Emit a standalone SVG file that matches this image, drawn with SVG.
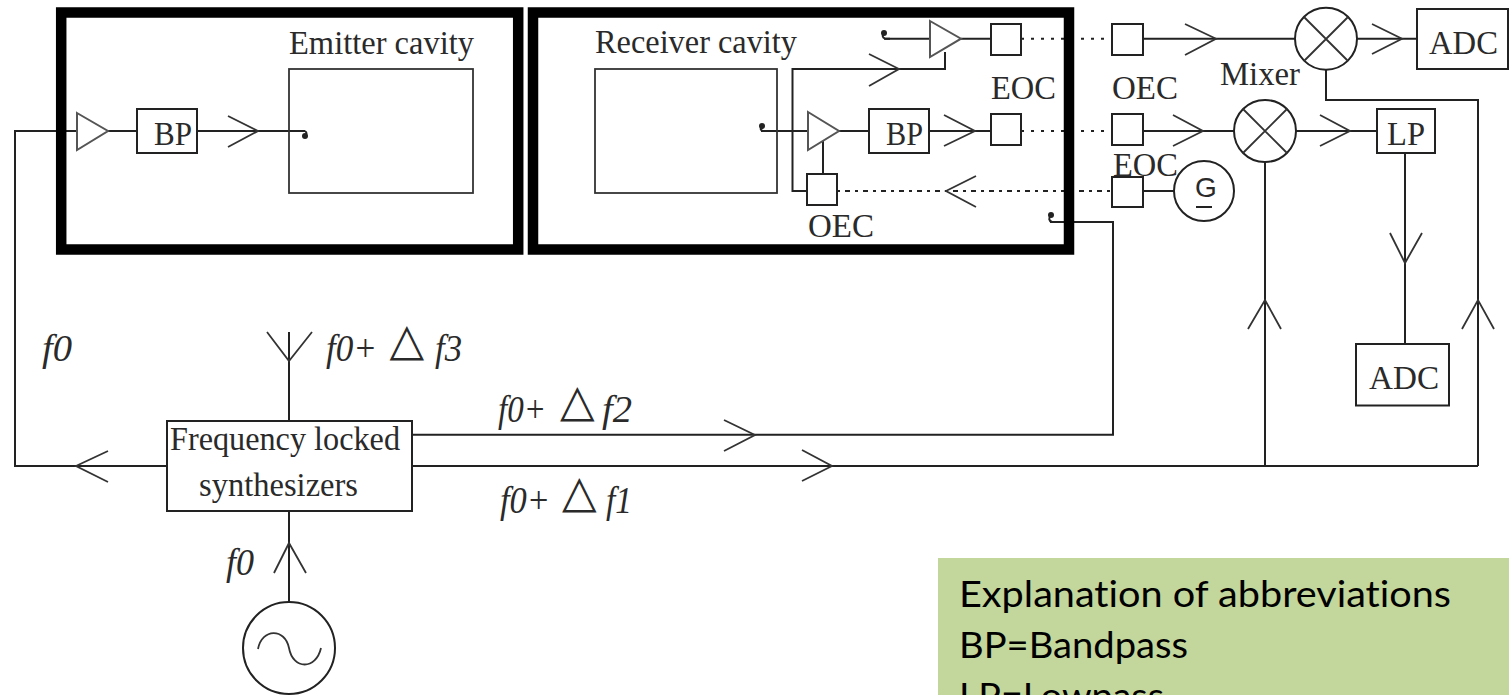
<svg xmlns="http://www.w3.org/2000/svg" width="1509" height="695" viewBox="0 0 1509 695">
<style>
.n{fill:none;stroke:#333;stroke-width:1.800}
.b{fill:#fff;stroke:#222;stroke-width:2}
.f{fill:none;stroke:#000;stroke-width:10.5}
.c{fill:none;stroke:#222;stroke-width:2}
.a{fill:none;stroke:#333;stroke-width:1.8}
.t{fill:#fff;stroke:#555;stroke-width:2}
.d{fill:none;stroke:#222;stroke-width:2;stroke-dasharray:3 7}
.e{fill:none;stroke:#222;stroke-width:2;stroke-dasharray:3 5 5 5}
text{font-family:"Liberation Serif","Times New Roman",serif;font-size:33px;fill:#2a2a2a}
.i{font-style:italic;font-size:37px}
.s{font-family:"DejaVu Sans",sans-serif;font-size:45px}
.g{font-family:"Liberation Sans",Arial,sans-serif;font-size:28px}
.l{font-family:Lato,"Open Sans",sans-serif;font-size:36px;fill:#000;font-variant-ligatures:none}
</style>
<rect width="1509" height="695" fill="#fff"/>
<g id="connectors">
<path class="c" d="M76 131H15V466H166"/>
<path class="c" d="M108 131H137M197 131H305"/>
<path class="c" d="M761 131H808M839 131H869M929 131H991"/>
<path class="c" d="M884 38.700H930M961 38.700H991"/>
<path class="c" d="M807 191H792.500V69H945V52"/>
<path class="c" d="M823 141V174"/>
<path class="d" d="M1021 38.700H1112M1021 131H1112"/>
<path class="e" d="M837 191H1112"/>
<path class="c" d="M1143 38.700H1295M1357 38.700H1417"/>
<path class="c" d="M1143 131H1234M1296 131H1377"/>
<path class="c" d="M1143 191H1174"/>
<path class="c" d="M1326 69V100H1478V466"/>
<path class="c" d="M1265 162V466"/>
<path class="c" d="M1405 153V344"/>
<path class="c" d="M412 466H1478"/>
<path class="c" d="M412 434.700H1113V222H1050"/>
<path class="c" d="M289 421V332M289 511V603"/>
<path class="a" d="M228 116L258 131L228 147M944 115L975 131L944 146M869 54L899 69L869 86M1185 24L1216 38.700L1185 55M1173 115L1203 131L1173 146M1320 115L1350 131L1320 146M1372 24L1402 38.700L1372 54M976 176L946 191L976 207M1390 233L1405 263L1422 233M1248 329L1265 300L1281 329M1462 329L1478 300L1494 329M724 420L755 435L724 451M802 450L832 466L802 481M108 451L76 466L108 482M267 332L289 361L312 332M274 573L289 543L306 573"/>
</g>
<g id="emitter-frame"><rect class="f" x="61.200" y="12.500" width="457" height="237"/></g>
<g id="receiver-frame"><rect class="f" x="533" y="12.500" width="536" height="237"/></g>
<g id="emitter-cavity"><rect class="n" x="289" y="69" width="184" height="124"/><text x="289" y="54" textLength="185" lengthAdjust="spacingAndGlyphs">Emitter cavity</text><path class="c" d="M305 131Q308 133 305 136"/><circle cx="305" cy="136" r="3" fill="#222"/></g>
<g id="amp-1"><path class="t" d="M77 113L108 131L77 150Z"/></g>
<g id="bp-1"><rect class="b" x="137" y="109" width="60" height="44"/><text x="154" y="145" textLength="38" lengthAdjust="spacingAndGlyphs">BP</text></g>
<g id="receiver-cavity"><rect class="n" x="595" y="69" width="182" height="124"/><text x="595" y="53" textLength="202" lengthAdjust="spacingAndGlyphs">Receiver cavity</text><path class="c" d="M767 131H763Q759 130 762 126"/><circle cx="762" cy="126" r="3" fill="#222"/></g>
<g id="amp-2"><path class="t" d="M808 112L839 131L808 150Z"/></g>
<g id="bp-2"><rect class="b" x="869" y="109" width="60" height="44"/><text x="886" y="145" textLength="37" lengthAdjust="spacingAndGlyphs">BP</text></g>
<g id="amp-3"><path class="t" d="M930 21L961 38.700L930 57Z"/><path class="c" d="M890 38.700H885Q881 37 884 33"/><circle cx="884" cy="33" r="3" fill="#222"/></g>
<g id="eoc-1"><rect class="b" x="991" y="24" width="30" height="31"/></g>
<g id="eoc-2"><rect class="b" x="991" y="114" width="30" height="31"/><text x="991" y="99" textLength="65" lengthAdjust="spacingAndGlyphs">EOC</text></g>
<g id="oec-1"><rect class="b" x="807" y="174" width="30" height="31"/><text x="808" y="237" textLength="66" lengthAdjust="spacingAndGlyphs">OEC</text></g>
<g id="out-hook"><path class="c" d="M1056 222H1052Q1047 220 1051 215"/><circle cx="1051" cy="215" r="3" fill="#222"/></g>
<g id="oec-2"><rect class="b" x="1112" y="24" width="31" height="31"/></g>
<g id="oec-3"><rect class="b" x="1112" y="114" width="31" height="31"/><text x="1112" y="99" textLength="66" lengthAdjust="spacingAndGlyphs">OEC</text></g>
<g id="eoc-3"><text x="1113" y="176" textLength="65" lengthAdjust="spacingAndGlyphs">EOC</text><rect class="b" x="1112" y="177" width="31" height="30" fill-opacity="0"/></g>
<g id="g-source"><circle class="b" cx="1204" cy="191" r="30"/><text class="g" x="1195" y="197">G</text><path class="c" d="M1196 207H1212"/></g>
<g id="mixer-1"><circle class="b" cx="1326" cy="38.700" r="31"/><path class="n" d="M1304 17L1348 61M1348 17L1304 61"/></g>
<g id="mixer-2"><circle class="b" cx="1265" cy="131" r="31"/><path class="n" d="M1243 109L1287 153M1287 109L1243 153"/><text x="1220" y="85" textLength="80" lengthAdjust="spacingAndGlyphs">Mixer</text></g>
<g id="adc-1"><rect class="b" x="1417" y="9" width="91" height="60"/><text x="1429" y="54" textLength="69" lengthAdjust="spacingAndGlyphs">ADC</text></g>
<g id="lp"><rect class="b" x="1377" y="109" width="58" height="44"/><text x="1387" y="145" textLength="38" lengthAdjust="spacingAndGlyphs">LP</text></g>
<g id="adc-2"><rect class="b" x="1356" y="344" width="93" height="61.500"/><text x="1369" y="389" textLength="70" lengthAdjust="spacingAndGlyphs">ADC</text></g>
<g id="synthesizers"><rect class="b" x="167" y="421" width="245" height="90"/><text x="170" y="450" textLength="230" lengthAdjust="spacingAndGlyphs">Frequency locked</text><text x="199" y="496" textLength="159" lengthAdjust="spacingAndGlyphs">synthesizers</text></g>
<g id="oscillator"><circle class="b" cx="289" cy="648" r="46"/><path class="n" d="M258 649C262 628 285 628 289 648C293 670 316 670 321 648"/></g>
<g id="labels">
<text class="i" x="42" y="361" textLength="30" lengthAdjust="spacingAndGlyphs">f0</text>
<text class="i" x="326" y="361" textLength="51" lengthAdjust="spacingAndGlyphs">f0+</text><text class="s" x="389.600" y="354.600">△</text><text class="i" x="435" y="361" textLength="27" lengthAdjust="spacingAndGlyphs">f3</text>
<text class="i" x="498" y="422" textLength="48" lengthAdjust="spacingAndGlyphs">f0+</text><text class="s" x="560" y="415.600">△</text><text class="i" x="602" y="422" textLength="30" lengthAdjust="spacingAndGlyphs">f2</text>
<text class="i" x="500" y="513" textLength="50" lengthAdjust="spacingAndGlyphs">f0+</text><text class="s" x="562" y="506.600">△</text><text class="i" x="606" y="513" textLength="26" lengthAdjust="spacingAndGlyphs">f1</text>
<text class="i" x="226" y="575" textLength="28" lengthAdjust="spacingAndGlyphs">f0</text>
</g>
<g id="legend"><rect x="938" y="558" width="571" height="137" fill="#c3d69b"/>
<text class="l" x="959" y="607" textLength="492" lengthAdjust="spacingAndGlyphs">Explanation of abbreviations</text>
<text class="l" x="959" y="658" textLength="229" lengthAdjust="spacingAndGlyphs">BP=Bandpass</text>
<text class="l" x="959" y="709" textLength="205" lengthAdjust="spacingAndGlyphs">LP=Lowpass</text></g>
</svg>
